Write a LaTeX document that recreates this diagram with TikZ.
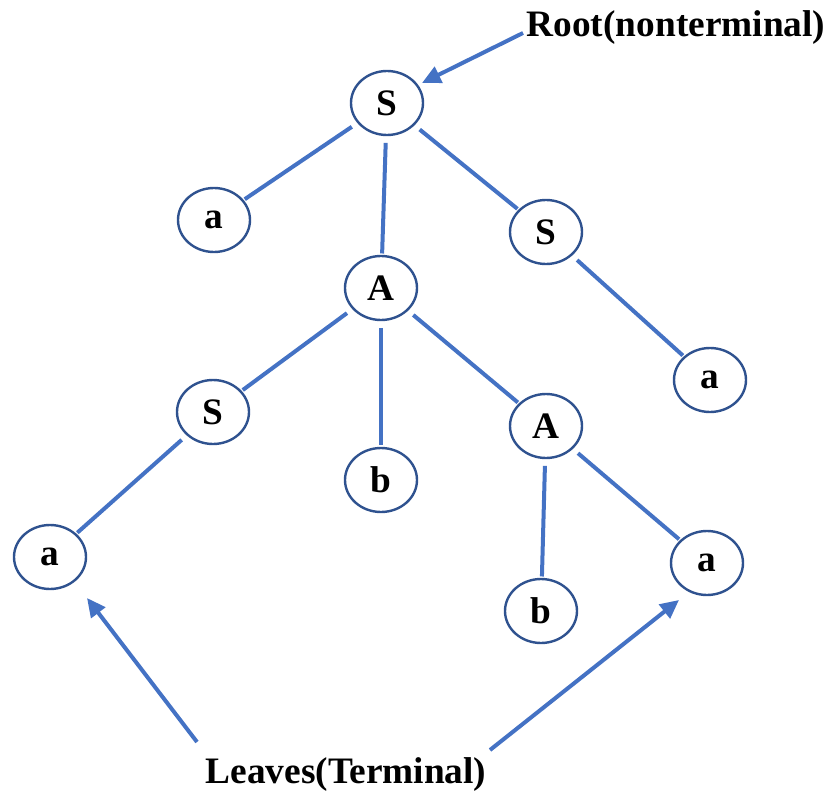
\documentclass[tikz,border=0pt]{standalone}
\usepackage{fontspec}
\setmainfont{Liberation Serif}
\usepackage{xcolor}
\usetikzlibrary{arrows.meta,shapes.geometric}

\definecolor{edgeblue}{HTML}{4472C4}
\definecolor{rimblue}{HTML}{2F528F}

\begin{document}
\begin{tikzpicture}[
      x=0.75pt, y=-0.75pt,
      font=\fontsize{28}{33}\selectfont\bfseries,
      sym/.style={ellipse, draw=rimblue, line width=1.8pt, fill=white,
                  minimum width=54pt, minimum height=48pt, inner sep=0pt},
      edge/.style={draw=edgeblue, line width=3pt, shorten <=5pt, shorten >=1pt},
      ar/.style={edgeblue, line width=3pt, -{Triangle[length=14pt, width=13pt]}},
      lbl/.style={inner sep=0pt}]
    \useasboundingbox (0,0) rectangle (832,796);
    % parse tree
    \node[sym] (s0) at (387,103) {S};
    \node[sym] (a1) at (214,220) {a};
    \node[sym] (a0) at (381,288) {A};
    \node[sym] (s1) at (546,232) {S};
    \node[sym] (a2) at (710,380) {a};
    \node[sym] (s2) at (213,412) {S};
    \node[sym] (b1) at (381,480) {b};
    \node[sym] (a5) at (546,426) {A};
    \node[sym] (a3) at (50,557)  {a};
    \node[sym] (b2) at (541,611) {b};
    \node[sym] (a4) at (707,563) {a};
    \draw[edge] (s0) -- (a1);
    \draw[edge] (s0) -- (a0);
    \draw[edge] (s0) -- (s1);
    \draw[edge] (s1) -- (a2);
    \draw[edge] (a0) -- (s2);
    \draw[edge] (a0) -- (b1);
    \draw[edge] (a0) -- (a5);
    \draw[edge] (s2) -- (a3);
    \draw[edge] (a5) -- (b2);
    \draw[edge] (a5) -- (a4);
    % annotations
    \node[lbl] (root)   at (676,28)  {Root(nonterminal)};
    \node[lbl] (leaves) at (346,775) {Leaves(Terminal)};
    \coordinate (rt) at (523,33);
    \coordinate (ll) at (197,742);
    \coordinate (lr) at (490,750);
    \coordinate (ht) at (422,83);
    \coordinate (h1) at (87,598);
    \coordinate (h2) at (679,600);
    \draw[ar] (rt) -- (ht);
    \draw[ar] (ll) -- (h1);
    \draw[ar] (lr) -- (h2);
\end{tikzpicture}
\end{document}
